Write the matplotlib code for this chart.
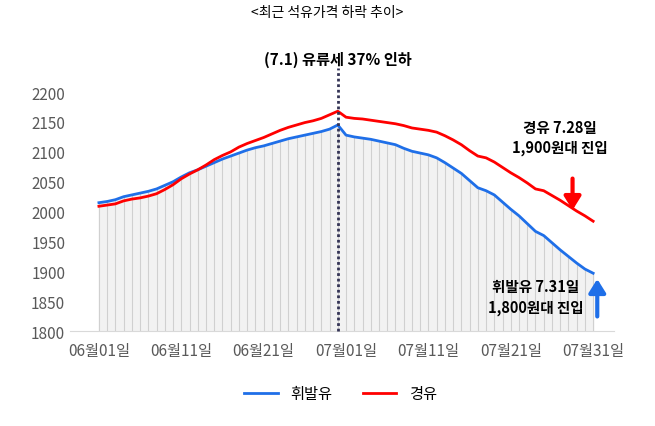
import matplotlib
matplotlib.use("Agg")
import matplotlib.pyplot as plt
import numpy as np

plt.rcParams['font.family'] = ['Noto Sans CJK KR', 'Noto Sans CJK JP', 'Noto Sans CJK SC', 'DejaVu Sans']

gasoline = [2015,2017,2020,2025,2028,2031,2034,2038,2044,2050,2058,2065,2070,2076,2082,2088,2093,2098,2103,2107,2110,2114,2118,2122,2125,2128,2131,2134,2138,2145,
            2128,2125,2123,2121,2118,2115,2112,2106,2101,2098,2095,2090,2082,2073,2064,2052,2040,2035,2028,2016,2004,1993,1980,1967,1960,1948,1936,1925,1914,1904,1897]
diesel = [2009,2011,2013,2018,2021,2023,2026,2030,2037,2045,2055,2063,2070,2078,2087,2094,2100,2108,2114,2119,2124,2130,2136,2141,2145,2149,2152,2156,2162,2168,
          2158,2156,2155,2153,2151,2149,2147,2144,2140,2138,2136,2133,2127,2120,2112,2102,2093,2090,2083,2074,2065,2057,2048,2038,2035,2027,2019,2010,2001,1993,1984]
tick_pos = [0,10,20,30,40,50,60]
tick_labels = ['06월01일','06월11일','06월21일','07월01일','07월11일','07월21일','07월31일']
yticks = [1800,1850,1900,1950,2000,2050,2100,2150,2200]

x = np.arange(len(gasoline))
fig = plt.figure(figsize=(6.55,4.27), dpi=100)
ax = fig.add_axes([0.107,0.222,0.83,0.56])
ax.vlines(x, 1800, gasoline, color='#d0d0d0', lw=0.8, zorder=1)
ax.fill_between(x, 1800, gasoline, color='#f2f2f2', zorder=0)
ax.plot(x, gasoline, color='#1f6fe8', lw=2, label='휘발유', zorder=3)
ax.plot(x, diesel, color='#ff0000', lw=2, label='경유', zorder=3)
ax.axvline(29, color='#333355', lw=2, ls=(0,(1,1)), ymax=1.1, clip_on=False, zorder=4)
ax.set_xlim(-3.5, 62.5)
ax.set_ylim(1800, 2200)
ax.set_yticks(yticks)
ax.set_xticks(tick_pos)
ax.set_xticklabels(tick_labels)
ax.tick_params(length=0, labelsize=11, colors='#595959')
ax.tick_params(axis='x', pad=8)
for s in ['top','right','left']:
    ax.spines[s].set_visible(False)
ax.spines['bottom'].set_color('#d9d9d9')
fig.text(0.5,0.97,'<최근 석유가격 하락 추이>', ha='center', va='center', fontsize=10)
ax.text(29, 2255, '(7.1) 유류세 37% 인하', ha='center', va='center', fontsize=11, fontweight='bold', clip_on=False)
ax.text(56, 2125, '경유 7.28일\n1,900원대 진입', ha='center', va='center', fontsize=10.5, fontweight='bold', linespacing=1.3)
ax.text(53, 1858, '휘발유 7.31일\n1,800원대 진입', ha='center', va='center', fontsize=10.5, fontweight='bold', linespacing=1.3)
ax.annotate('', xy=(57.5,1998), xytext=(57.5,2060), arrowprops=dict(arrowstyle='-|>,head_width=0.5,head_length=0.8', color='#ff0000', lw=3))
ax.annotate('', xy=(60.5,1892), xytext=(60.5,1820), arrowprops=dict(arrowstyle='-|>,head_width=0.5,head_length=0.8', color='#1f6fe8', lw=3), annotation_clip=False)
fig.legend(loc='center', bbox_to_anchor=(0.52,0.075), ncol=2, frameon=False, fontsize=11, handlelength=2.2)
fig.savefig('out.png')
